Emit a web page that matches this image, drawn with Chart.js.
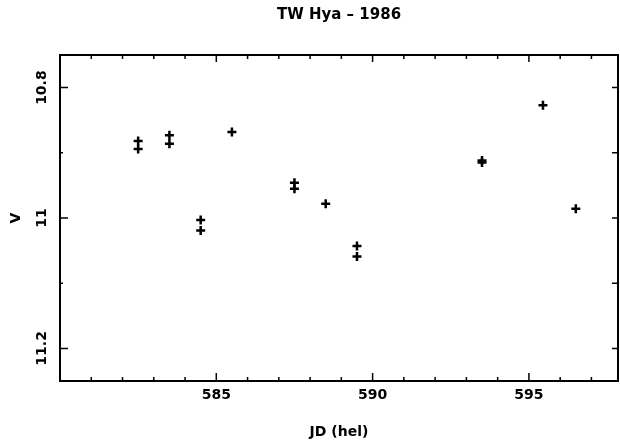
<!DOCTYPE html>
<html lang="en">
<head>
    <meta charset="UTF-8">
    <title>TW Hya - 1986</title>
    <style>
        body { margin: 0; background: #fff; }
        #wrap { width: 620px; height: 444px; }
    </style>
</head>
<body>
    <div id="wrap">
        <canvas id="lc" width="620" height="444"></canvas>
    </div>

    <script src="https://cdn.jsdelivr.net/npm/chart.js"></script>
    <script>
        const jd = [582.5, 582.5, 583.5, 583.5, 584.5, 584.5, 585.5, 587.5, 587.5, 588.5, 589.5, 589.5, 593.5, 593.5, 595.45, 596.5];
        const vmag = [10.882, 10.894, 10.873, 10.886, 11.003, 11.019, 10.868, 10.946, 10.955, 10.978, 11.043, 11.059, 10.912, 10.915, 10.827, 10.986];

        const xTickLabels = [585, 590, 595];
        const yTickLabels = [10.8, 11, 11.2];
        const xMinor = [581, 582, 583, 584, 586, 587, 588, 589, 591, 592, 593, 594, 596, 597];
        const yMinor = [10.9, 11.1];

        const boldFont = { family: 'DejaVu Sans', size: 14, weight: 'bold', lineHeight: 1.2 };

        // box round the plot with small inward ticks, like the old plotting package
        const frameTicks = {
            id: 'frameTicks',
            afterDraw(chart) {
                const { ctx, chartArea: a, scales: { x, y } } = chart;
                ctx.save();
                ctx.strokeStyle = '#000';
                ctx.lineWidth = 2;
                ctx.strokeRect(a.left, a.top, a.right - a.left, a.bottom - a.top);

                ctx.lineWidth = 1.5;
                ctx.beginPath();
                xTickLabels.concat(xMinor).forEach(v => {
                    const px = x.getPixelForValue(v);
                    const big = xTickLabels.includes(v);
                    ctx.moveTo(px, a.bottom);
                    ctx.lineTo(px, a.bottom - (big ? 8 : 4));
                    ctx.moveTo(px, a.top);
                    ctx.lineTo(px, a.top + (big ? 7 : 4));
                });
                yTickLabels.concat(yMinor).forEach(v => {
                    const py = y.getPixelForValue(v);
                    const big = yTickLabels.includes(v);
                    ctx.moveTo(a.left, py);
                    ctx.lineTo(a.left + (big ? 8 : 3), py);
                    ctx.moveTo(a.right, py);
                    ctx.lineTo(a.right - 6, py);
                });
                ctx.stroke();
                ctx.restore();
            }
        };

        new Chart(document.getElementById('lc'), {
            type: 'scatter',
            data: {
                datasets: [{
                    label: 'V',
                    data: jd.map((t, i) => ({ x: t, y: vmag[i] })),
                    pointStyle: 'cross',
                    pointRadius: 4.5,
                    borderWidth: 2.5,
                    borderColor: '#000',
                    backgroundColor: '#000'
                }]
            },
            options: {
                responsive: false,
                animation: false,
                layout: { autoPadding: false, padding: { left: 0, right: 2, top: 0, bottom: 0 } },
                plugins: {
                    legend: { display: false },
                    tooltip: { enabled: false }
                },
                scales: {
                    x: {
                        type: 'linear',
                        position: 'bottom',
                        min: 580,
                        max: 597.85,
                        afterBuildTicks: s => { s.ticks = xTickLabels.map(v => ({ value: v })); },
                        afterFit: s => { s.height = 63; },
                        grid: { display: false, drawTicks: false },
                        border: { display: false },
                        ticks: { color: '#000', font: boldFont, padding: 6, maxRotation: 0 },
                        title: {
                            display: true,
                            text: 'JD (hel)',
                            color: '#000',
                            font: boldFont,
                            padding: { top: 0, bottom: 3 }
                        }
                    },
                    // top axis only carries the plot title, centred over the frame
                    top: {
                        type: 'linear',
                        position: 'top',
                        min: 580,
                        max: 597.85,
                        afterFit: s => { s.height = 55; },
                        grid: { display: false, drawTicks: false },
                        border: { display: false },
                        ticks: { display: false },
                        title: {
                            display: true,
                            text: 'TW Hya – 1986',
                            color: '#000',
                            font: { family: 'DejaVu Sans', size: 15, weight: 'bold', lineHeight: 1.2 },
                            padding: { top: 6, bottom: 0 }
                        }
                    },
                    y: {
                        type: 'linear',
                        position: 'left',
                        min: 10.75,
                        max: 11.25,
                        reverse: true,
                        afterBuildTicks: s => { s.ticks = yTickLabels.map(v => ({ value: v })); },
                        afterFit: s => { s.width = 60; },
                        grid: { display: false, drawTicks: false },
                        border: { display: false },
                        ticks: {
                            color: '#000',
                            font: boldFont,
                            padding: 0,
                            minRotation: 90,
                            maxRotation: 90,
                            crossAlign: 'center',
                            callback: v => String(v)
                        },
                        title: {
                            display: true,
                            text: 'V',
                            color: '#000',
                            font: boldFont,
                            padding: { top: 8, bottom: 0 }
                        }
                    }
                }
            },
            plugins: [frameTicks]
        });
    </script>
</body>
</html>
